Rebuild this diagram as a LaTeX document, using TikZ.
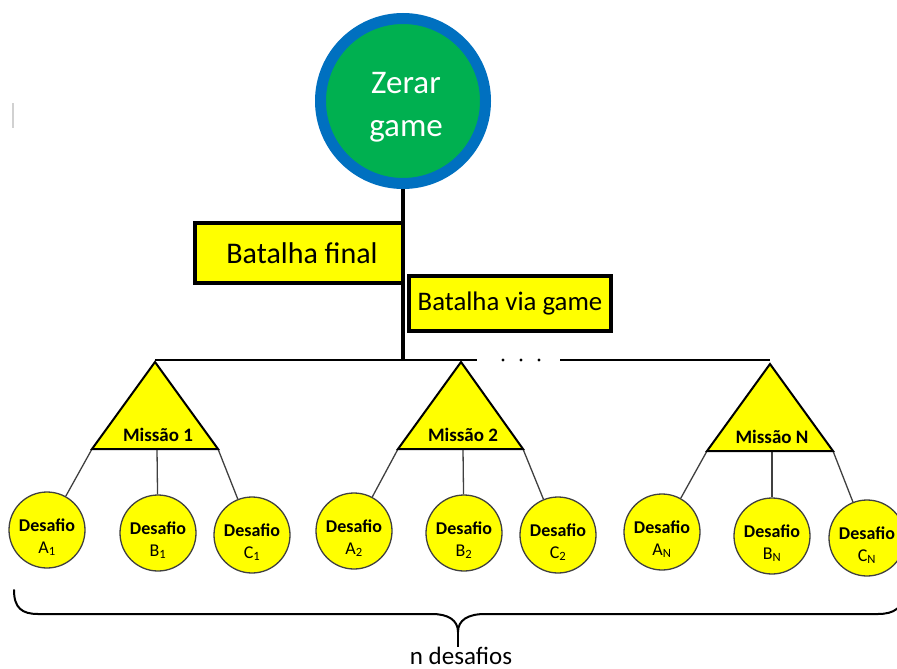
\documentclass[tikz,border=0pt]{standalone}
\usepackage{fontspec}
\setmainfont{Carlito}
\definecolor{zgreen}{HTML}{00B050}
\definecolor{zblue}{HTML}{0070C0}
\definecolor{ylw}{HTML}{FFFF00}
\definecolor{conncol}{HTML}{404040}
\begin{document}
\begin{tikzpicture}[x=1pt,y=-1pt,
  goal/.style={circle,fill=zgreen,draw=zblue,line width=11pt,minimum size=165pt,inner sep=0pt},
  goaltext/.style={text=white,align=center,inner sep=0pt,font=\fontsize{33}{43}\selectfont},
  stagebox/.style={rectangle,fill=ylw,draw=black,line width=4pt,inner sep=0pt,align=center},
  tri/.style={fill=ylw,draw=black,line width=2pt,line join=miter},
  mtext/.style={font=\fontsize{19}{22}\selectfont\bfseries,inner sep=0pt},
  des/.style={circle,fill=ylw,draw=conncol,line width=1.3pt,minimum size=76pt,inner sep=0pt},
  dtext/.style={align=center,inner sep=0pt,font=\fontsize{18}{22}\selectfont},
  conn/.style={draw=conncol,line width=1.3pt},
  trunk/.style={draw=black,line width=4pt},
  hline/.style={draw=black,line width=2pt},
]
\useasboundingbox (0,0) rectangle (897,669);
\clip (0,0) rectangle (897,669);

% faint mark at left
\draw[black!18,line width=1.5pt] (13,103) -- (13,128);

% goal
\node[goal] (z) at (403,101) {};
\node[goaltext] (zt) at (406,107) {Zerar\\game};
\coordinate (zj) at (403,360);
\draw[trunk] (z.south) -- (zj);

% boxes
\node[stagebox,minimum width=208pt,minimum height=60pt,font=\fontsize{30}{34}\selectfont] (bf) at (299,253) {\hspace*{6pt}Batalha final};
\node[stagebox,minimum width=202pt,minimum height=55pt,font=\fontsize{26.8}{30}\selectfont] (bv) at (510,303.5) {Batalha via game};

% horizontal bus
\coordinate (m1top) at (155,360);
\coordinate (gapl) at (477,360);
\coordinate (gapr) at (560,360);
\coordinate (mntop) at (770,360);
\draw[hline] (m1top) -- (gapl);
\draw[hline] (gapr) -- (mntop);
\fill (503,360) circle (1.6pt) (521,360) circle (1.6pt) (539,360) circle (1.6pt);

% triangles
\coordinate (t1a) at (155,362); \coordinate (t1l) at (92,449); \coordinate (t1r) at (218,449); \coordinate (t1m) at (157,449);
\coordinate (t2a) at (461,362); \coordinate (t2l) at (398,449); \coordinate (t2r) at (523,449); \coordinate (t2m) at (463,449);
\coordinate (tna) at (770,364); \coordinate (tnl) at (707,451); \coordinate (tnr) at (833,451); \coordinate (tnm) at (772,451);

% desafios
\node[des] (a1) at (47,530) {};
\node[des] (b1) at (158,533) {};
\node[des] (c1) at (252,535) {};
\node[des] (a2) at (354,531) {};
\node[des] (b2) at (464,533) {};
\node[des] (c2) at (558,535) {};
\node[des] (an) at (662,532) {};
\node[des] (bn) at (772,536) {};
\node[des] (cn) at (867,538) {};

\draw[conn] (t1l) -- (a1); \draw[conn] (t1m) -- (b1); \draw[conn] (t1r) -- (c1);
\draw[conn] (t2l) -- (a2); \draw[conn] (t2m) -- (b2); \draw[conn] (t2r) -- (c2);
\draw[conn] (tnl) -- (an); \draw[conn] (tnm) -- (bn); \draw[conn] (tnr) -- (cn);

\draw[tri] (t1a) -- (t1r) -- (t1l) -- cycle;
\draw[tri] (t2a) -- (t2r) -- (t2l) -- cycle;
\draw[tri] (tna) -- (tnr) -- (tnl) -- cycle;
\node[mtext] (m1) at (158,435) {Missão 1};
\node[mtext] (m2) at (463,435) {Missão 2};
\node[mtext] (mn) at (772,437) {Missão N};

% desafio texts
\node[dtext] (a1t) at ([yshift=-7pt]a1.center) {\textbf{Desafio}\\A\textsubscript{1}};
\node[dtext] (b1t) at ([yshift=-7pt]b1.center) {\textbf{Desafio}\\B\textsubscript{1}};
\node[dtext] (c1t) at ([yshift=-7pt]c1.center) {\textbf{Desafio}\\C\textsubscript{1}};
\node[dtext] (a2t) at ([yshift=-7pt]a2.center) {\textbf{Desafio}\\A\textsubscript{2}};
\node[dtext] (b2t) at ([yshift=-7pt]b2.center) {\textbf{Desafio}\\B\textsubscript{2}};
\node[dtext] (c2t) at ([yshift=-7pt]c2.center) {\textbf{Desafio}\\C\textsubscript{2}};
\node[dtext] (ant) at ([yshift=-7pt]an.center) {\textbf{Desafio}\\A\textsubscript{N}};
\node[dtext] (bnt) at ([yshift=-7pt]bn.center) {\textbf{Desafio}\\B\textsubscript{N}};
\node[dtext] (cnt) at ([yshift=-7pt]cn.center) {\textbf{Desafio}\\C\textsubscript{N}};

% brace
\coordinate (bl) at (14,590);
\coordinate (br) at (904,590);
\coordinate (bc) at (458,632);
\coordinate (bt) at (458,647);
\draw[black,line width=2pt,line cap=round] (bl) .. controls (14,608) and (22,614) .. (38,614)
  -- (432,614) .. controls (448,614) and (458,620) .. (bc)
  .. controls (458,620) and (468,614) .. (485,614)
  -- (878,614) .. controls (894,614) and (904,608) .. (br);
\draw[black,line width=2pt] (bc) -- (bt);
\node[font=\fontsize{25}{28}\selectfont,anchor=base,inner sep=0pt] (nd) at (461,664) {n desafios};
\end{tikzpicture}
\end{document}
